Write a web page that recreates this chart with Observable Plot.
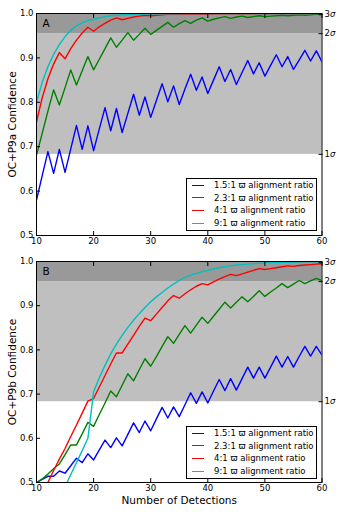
<!DOCTYPE html>
<html><head><meta charset="utf-8">
<script src="https://cdn.jsdelivr.net/npm/d3@7"></script>
<script src="https://cdn.jsdelivr.net/npm/@observablehq/plot@0.6"></script>
<style>
body{margin:0;background:#fff;}
#wrap{position:relative;width:344px;height:516px;font-family:"DejaVu Sans",sans-serif;}
#wrap svg{display:block;}
.legend{position:absolute;left:186px;width:131px;border:1px solid #000;background:#fff;font-size:8.5px;color:#000;box-sizing:border-box;padding-top:0.5px;}
.legend .row{height:12.6px;display:flex;align-items:center;white-space:nowrap;}
.legend .sw{width:12px;height:0;border-top:1.5px solid;margin-left:5px;margin-right:10px;}
</style></head><body><div id="wrap"></div>
<script>
const detections = [10,11,12,13,14,15,16,17,18,19,20,21,22,23,24,25,26,27,28,29,30,31,32,33,34,35,36,37,38,39,40,41,42,43,44,45,46,47,48,49,50,51,52,53,54,55,56,57,58,59,60];
const seriesNames = ["1.5:1 ϖ alignment ratio","2.3:1 ϖ alignment ratio","4:1 ϖ alignment ratio","9:1 ϖ alignment ratio"];
const seriesColors = ["#0000ff","#008000","#ff0000","#00bfbf"];
const xTicks = [10,20,30,40,50,60];
const yTicks = [0.5,0.6,0.7,0.8,0.9,1.0];
const sigmaLevels = [0.6827,0.9545,0.9973];
const sigmaLabels = ["1σ","2σ","3σ"];

// Panel A (OC+P9a)
const blueA = [0.580,0.635,0.689,0.640,0.694,0.642,0.695,0.748,0.694,0.747,0.691,0.740,0.788,0.736,0.786,0.732,0.775,0.818,0.771,0.812,0.766,0.804,0.842,0.801,0.837,0.795,0.830,0.863,0.827,0.857,0.820,0.850,0.880,0.847,0.874,0.840,0.867,0.894,0.864,0.889,0.859,0.883,0.907,0.880,0.903,0.874,0.895,0.917,0.893,0.916,0.891];
const greenA = [0.681,0.730,0.780,0.828,0.794,0.833,0.873,0.839,0.871,0.903,0.873,0.897,0.921,0.945,0.924,0.940,0.957,0.940,0.953,0.967,0.953,0.962,0.971,0.980,0.969,0.977,0.984,0.978,0.985,0.990,0.983,0.987,0.990,0.993,0.989,0.992,0.994,0.991,0.993,0.995,0.993,0.994,0.995,0.996,0.995,0.996,0.997,0.996,0.997,0.998,0.998];
const redA = [0.756,0.810,0.853,0.886,0.912,0.898,0.921,0.940,0.956,0.969,0.960,0.970,0.978,0.985,0.990,0.986,0.989,0.992,0.994,0.996,0.995,0.996,0.997,0.998,0.998,0.998,0.9985,0.999,0.999,0.9993,0.999,0.9993,0.9994,0.9995,0.9995,0.9994,0.9995,0.9996,0.9996,0.9997,0.9996,0.9997,0.9997,0.9997,0.9998,0.9997,0.9998,0.9998,0.9998,0.9998,0.9998];
const cyanA = [0.800,0.845,0.880,0.908,0.930,0.948,0.962,0.972,0.979,0.984,0.987,0.990,0.993,0.995,0.996,0.997,0.9975,0.998,0.9985,0.999,0.9992,0.9993,0.9994,0.9995,0.9996,0.9996,0.9997,0.9997,0.9997,0.9998,0.9998,0.9998,0.9998,0.9998,0.9999,0.9999,0.9999,0.9999,0.9999,0.9999,0.9999,0.9999,0.9999,0.9999,0.9999,0.9999,0.9999,0.9999,0.9999,0.9999,0.9999];

// Panel B (OC+P9b)
const blueB = [0.500,0.507,0.514,0.514,0.526,0.521,0.538,0.555,0.545,0.565,0.551,0.574,0.596,0.579,0.601,0.583,0.609,0.635,0.613,0.639,0.617,0.644,0.670,0.646,0.671,0.649,0.676,0.703,0.679,0.705,0.680,0.707,0.733,0.708,0.735,0.709,0.735,0.761,0.736,0.761,0.736,0.761,0.786,0.761,0.785,0.761,0.785,0.808,0.786,0.808,0.788];
const greenB = [0.500,0.508,0.519,0.531,0.542,0.563,0.585,0.585,0.610,0.636,0.627,0.654,0.680,0.707,0.694,0.720,0.746,0.730,0.755,0.780,0.763,0.785,0.808,0.830,0.815,0.835,0.855,0.838,0.856,0.874,0.860,0.876,0.892,0.908,0.895,0.908,0.920,0.909,0.921,0.934,0.921,0.931,0.940,0.950,0.941,0.949,0.957,0.950,0.956,0.962,0.957];
const redB = [0.445,0.472,0.500,0.527,0.553,0.577,0.604,0.630,0.657,0.684,0.690,0.716,0.742,0.768,0.793,0.793,0.813,0.833,0.853,0.872,0.866,0.881,0.896,0.911,0.923,0.917,0.927,0.936,0.944,0.950,0.947,0.954,0.960,0.966,0.971,0.968,0.972,0.976,0.980,0.984,0.982,0.984,0.986,0.988,0.990,0.989,0.991,0.992,0.993,0.994,0.995];
const cyanB = [0.300,0.340,0.380,0.420,0.455,0.490,0.518,0.545,0.572,0.600,0.705,0.737,0.765,0.791,0.813,0.833,0.851,0.867,0.882,0.896,0.909,0.920,0.930,0.940,0.949,0.957,0.964,0.969,0.973,0.977,0.980,0.983,0.986,0.988,0.990,0.992,0.993,0.994,0.995,0.996,0.997,0.9975,0.998,0.9984,0.9987,0.999,0.9992,0.9993,0.9994,0.9995,0.9996];

const sigmaLabelOf = new Map(sigmaLevels.map((s, i) => [s, sigmaLabels[i]]));

function panel({series, letter, ylabel, height, marginBottom, xlabel}) {
  const data = [];
  series.forEach((arr, si) => arr.forEach((v, i) => data.push({n: detections[i], v, s: seriesNames[si]})));
  const marks = [
    Plot.rect([[sigmaLevels[0], sigmaLevels[1]]], {y1: d => d[0], y2: d => d[1], fill: "#bfbfbf"}),
    Plot.rect([[sigmaLevels[1], 1.0]], {y1: d => d[0], y2: d => d[1], fill: "#999999"}),
    Plot.line(data, {x: "n", y: "v", z: "s", stroke: "s", strokeWidth: 1.4, clip: true}),
    Plot.frame({stroke: "#000", strokeWidth: 1}),
    Plot.axisY({anchor: "left", ticks: yTicks, tickSize: -4, tickPadding: 7, tickFormat: d3.format(".1f"), label: null}),
    Plot.axisY({anchor: "right", ticks: sigmaLevels, tickSize: -4, tickPadding: 6.5, tickFormat: d => sigmaLabelOf.get(d), label: null}),
    Plot.axisX({anchor: "bottom", ticks: xTicks, tickSize: -4, tickPadding: 6, tickFormat: d3.format("d"), label: null}),
    Plot.axisX({anchor: "top", ticks: xTicks, tickSize: -4, tickFormat: () => "", label: null}),
    Plot.text([letter], {frameAnchor: "top-left", dx: 6, dy: 6, fontSize: 10.5, textAnchor: "start", lineAnchor: "top"}),
    Plot.text([ylabel], {frameAnchor: "left", dx: -24, rotate: -90, fontSize: 10.5, textAnchor: "middle", lineAnchor: "middle"})
  ];
  if (xlabel) marks.push(Plot.text([xlabel], {frameAnchor: "bottom", dy: 14, fontSize: 10.5, textAnchor: "middle", lineAnchor: "top"}));
  return Plot.plot({
    width: 344, height, marginLeft: 36, marginRight: 22.5, marginTop: 13, marginBottom,
    style: {fontFamily: "DejaVu Sans", fontSize: "8.5px", background: "white", color: "black", overflow: "visible"},
    x: {domain: [10, 60]},
    y: {domain: [0.5, 1.0]},
    color: {domain: seriesNames, range: seriesColors},
    marks
  });
}

function legend(top) {
  const div = document.createElement("div");
  div.className = "legend";
  div.style.top = top + "px";
  div.style.height = "53px";
  seriesNames.forEach((name, i) => {
    const row = document.createElement("div");
    row.className = "row";
    const sw = document.createElement("span");
    sw.className = "sw";
    sw.style.borderTopColor = seriesColors[i];
    const t = document.createElement("span");
    t.textContent = name;
    row.appendChild(sw); row.appendChild(t);
    div.appendChild(row);
  });
  return div;
}

const wrap = document.getElementById("wrap");
const pA = panel({series: [blueA, greenA, redA, cyanA], letter: "A", ylabel: "OC+P9a Confidence", height: 248, marginBottom: 13});
const pB = panel({series: [blueB, greenB, redB, cyanB], letter: "B", ylabel: "OC+P9b Confidence", height: 268, marginBottom: 34, xlabel: "Number of Detections"});
wrap.appendChild(pA);
wrap.appendChild(pB);
wrap.appendChild(legend(177.5));
wrap.appendChild(legend(425.5));

// italic sigma
d3.selectAll("#wrap svg text").each(function() {
  const t = this.textContent;
  if (t.endsWith("σ") && t.length <= 3) {
    const el = d3.select(this);
    el.text(null);
    el.append("tspan").text(t.slice(0, -1));
    el.append("tspan").attr("font-style", "italic").text("σ");
  }
});
</script>
</body></html>
